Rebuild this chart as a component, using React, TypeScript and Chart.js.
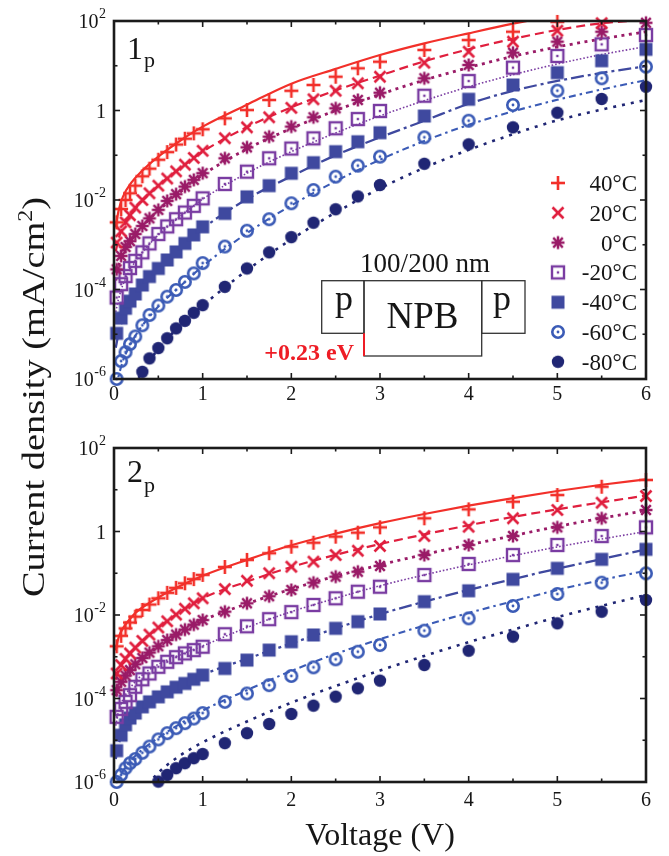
import React, { useEffect, useRef } from 'react';
import { Chart, registerables } from 'chart.js';

Chart.register(...registerables);

const SERIF = '"Liberation Serif", "Times New Roman", "DejaVu Serif", serif';

// ---------- DATA (current density given as log10 of mA/cm^2) ----------
const V_POINTS = [0.03, 0.08, 0.13, 0.18, 0.24, 0.32, 0.4, 0.5, 0.6, 0.7, 0.8, 0.9, 1.0, 1.25, 1.5, 1.75, 2, 2.25, 2.5, 2.75, 3, 3.5, 4, 4.5, 5, 5.5, 6];
const V_FIT = [0.02, 0.05, 0.1, 0.2, 0.3, 0.5, 0.75, 1, 1.5, 2, 2.5, 3, 3.5, 4, 4.5, 5, 5.5, 6];

const TEMPS = ['40°C', '20°C', '0°C', '-20°C', '-40°C', '-60°C', '-80°C'];

// Panel 1p — measured points
const TOP_P40 = [-2.5, -2.2, -2.0, -1.85, -1.68, -1.47, -1.3, -1.1, -0.93, -0.76, -0.63, -0.51, -0.42, -0.175, 0.01, 0.235, 0.44, 0.57, 0.755, 0.943, 1.09, 1.352, 1.575, 1.761, 1.98, null, null];
const TOP_P20 = [-2.95, -2.7, -2.5, -2.34, -2.17, -2.0, -1.85, -1.68, -1.52, -1.36, -1.21, -1.06, -0.9, -0.62, -0.376, -0.152, 0.06, 0.25, 0.442, 0.608, 0.755, 1.068, 1.314, 1.538, 1.783, 1.95, null];
const TOP_P0 = [-3.55, -3.25, -3.05, -2.92, -2.76, -2.58, -2.41, -2.22, -2.02, -1.87, -1.7, -1.55, -1.4, -1.068, -0.823, -0.585, -0.36, -0.152, 0.049, 0.235, 0.398, 0.72, 1.017, 1.292, 1.538, 1.76, 1.96];
const TOP_PM20 = [-4.18, -3.88, -3.7, -3.52, -3.36, -3.17, -2.97, -2.76, -2.59, -2.43, -2.28, -2.13, -1.963, -1.642, -1.367, -1.068, -0.85, -0.622, -0.398, -0.19, -0.011, 0.331, 0.659, 0.957, 1.218, 1.479, 1.687];
const TOP_PM40 = [-4.98, -4.64, -4.42, -4.26, -4.1, -3.9, -3.71, -3.53, -3.34, -3.16, -2.97, -2.78, -2.6, -2.3, -1.93, -1.68, -1.403, -1.166, -0.92, -0.697, -0.496, -0.123, 0.25, 0.57, 0.845, 1.113, 1.367];
const TOP_PM60 = [-6.0, -5.6, -5.4, -5.22, -5.05, -4.8, -4.57, -4.36, -4.16, -4.01, -3.83, -3.64, -3.41, -3.04, -2.686, -2.43, -2.074, -1.777, -1.479, -1.233, -1.032, -0.6, -0.228, 0.123, 0.442, 0.72, 0.98];
const TOP_PM80 = [null, null, null, null, null, -5.84, -5.54, -5.31, -5.09, -4.87, -4.7, -4.52, -4.35, -3.94, -3.53, -3.17, -2.83, -2.507, -2.208, -1.92, -1.665, -1.19, -0.756, -0.376, -0.05, 0.257, 0.532];

// Panel 1p — fitted curves
const TOP_F40 = [-2.6, -2.25, -1.93, -1.6, -1.38, -1.03, -0.67, -0.36, 0.13, 0.6, 0.93, 1.24, 1.5, 1.725, 1.94, 2.13, 2.3, 2.45];
const TOP_F20 = [-3.15, -2.88, -2.62, -2.3, -2.06, -1.68, -1.28, -0.92, -0.37, 0.07, 0.45, 0.78, 1.1, 1.37, 1.6, 1.8, 1.95, 2.02];
const TOP_F0 = [-3.8, -3.48, -3.2, -2.87, -2.63, -2.24, -1.82, -1.44, -0.86, -0.4, 0.0, 0.36, 0.68, 0.96, 1.21, 1.42, 1.6, 1.76];
const TOP_FM20 = [-4.5, -4.22, -3.9, -3.5, -3.22, -2.78, -2.36, -1.98, -1.4, -0.92, -0.5, -0.12, 0.22, 0.53, 0.8, 1.04, 1.25, 1.43];
const TOP_FM40 = [-5.3, -5.0, -4.65, -4.22, -3.95, -3.55, -3.08, -2.64, -1.98, -1.47, -1.0, -0.6, -0.23, 0.15, 0.44, 0.66, 0.84, 0.99];
const TOP_FM60 = [-6.2, -5.95, -5.6, -5.17, -4.86, -4.38, -3.92, -3.48, -2.74, -2.12, -1.58, -1.1, -0.68, -0.32, -0.02, 0.24, 0.47, 0.68];
const TOP_FM80 = [-7.5, -7.2, -6.9, -6.3, -5.9, -5.33, -4.8, -4.36, -3.57, -2.88, -2.28, -1.74, -1.28, -0.88, -0.53, -0.22, 0.02, 0.235];

// Panel 2p — measured points
const BOT_P40 = [-2.75, -2.5, -2.32, -2.18, -2.04, -1.88, -1.75, -1.6, -1.47, -1.35, -1.24, -1.14, -1.04, -0.85, -0.68, -0.52, -0.364, -0.268, -0.124, -0.028, 0.1, 0.316, 0.531, 0.714, 0.874, 1.073, 1.234];
const BOT_P20 = [-3.4, -3.2, -3.05, -2.92, -2.78, -2.62, -2.47, -2.3, -2.15, -1.99, -1.85, -1.72, -1.6, -1.38, -1.18, -1.0, -0.843, -0.723, -0.563, -0.46, -0.347, -0.108, 0.115, 0.316, 0.515, 0.69, 0.85];
const BOT_P0 = [-3.8, -3.6, -3.45, -3.32, -3.18, -3.03, -2.9, -2.75, -2.6, -2.47, -2.35, -2.23, -2.12, -1.92, -1.72, -1.55, -1.401, -1.226, -1.082, -0.963, -0.826, -0.563, -0.323, -0.108, 0.1, 0.316, 0.515];
const BOT_PM20 = [-4.44, -4.25, -4.08, -3.92, -3.72, -3.54, -3.4, -3.24, -3.12, -3.01, -2.92, -2.84, -2.76, -2.46, -2.27, -2.1, -1.93, -1.76, -1.6, -1.442, -1.322, -1.042, -0.778, -0.563, -0.323, -0.108, 0.1];
const BOT_PM40 = [-5.25, -4.88, -4.63, -4.47, -4.35, -4.2, -4.08, -3.96, -3.84, -3.73, -3.64, -3.54, -3.44, -3.28, -3.08, -2.84, -2.64, -2.479, -2.319, -2.16, -1.976, -1.68, -1.42, -1.146, -0.882, -0.667, -0.427];
const BOT_PM60 = [-6.0, -5.83, -5.67, -5.55, -5.45, -5.3, -5.15, -4.98, -4.83, -4.71, -4.59, -4.48, -4.35, -4.08, -3.88, -3.68, -3.46, -3.253, -3.062, -2.879, -2.719, -2.375, -2.08, -1.784, -1.497, -1.226, -1.002];
const BOT_PM80 = [null, null, null, null, null, null, null, -5.99, -5.83, -5.67, -5.55, -5.43, -5.33, -5.07, -4.83, -4.61, -4.371, -4.172, -3.956, -3.756, -3.573, -3.198, -2.855, -2.519, -2.2, -1.921, -1.641];

// Panel 2p — fitted curves
const BOT_F40 = [-2.85, -2.55, -2.32, -2.04, -1.85, -1.58, -1.3, -1.06, -0.68, -0.33, -0.05, 0.2, 0.42, 0.62, 0.8, 0.97, 1.12, 1.25];
const BOT_F20 = [-3.55, -3.32, -3.12, -2.87, -2.66, -2.3, -1.92, -1.6, -1.2, -0.85, -0.56, -0.3, -0.07, 0.15, 0.35, 0.53, 0.7, 0.86];
const BOT_F0 = [-3.95, -3.75, -3.56, -3.28, -3.07, -2.75, -2.41, -2.13, -1.73, -1.38, -1.07, -0.8, -0.55, -0.32, -0.1, 0.12, 0.32, 0.5];
const BOT_FM20 = [-4.65, -4.32, -4.03, -3.7, -3.47, -3.18, -2.95, -2.74, -2.3, -1.92, -1.6, -1.3, -1.04, -0.8, -0.58, -0.37, -0.18, 0.0];
const BOT_FM40 = [-5.45, -5.12, -4.8, -4.44, -4.23, -3.96, -3.68, -3.43, -3.05, -2.68, -2.32, -1.98, -1.68, -1.4, -1.14, -0.89, -0.66, -0.43];
const BOT_FM60 = [-6.2, -5.95, -5.74, -5.46, -5.26, -4.94, -4.6, -4.29, -3.8, -3.34, -2.93, -2.58, -2.25, -1.95, -1.67, -1.4, -1.16, -0.94];
const BOT_FM80 = [-7.6, -7.4, -7.1, -6.7, -6.3, -5.78, -5.36, -5.05, -4.55, -4.1, -3.7, -3.33, -2.98, -2.65, -2.35, -2.05, -1.78, -1.52];

// Axis ticks
const X_MAJOR = [0, 1, 2, 3, 4, 5, 6];
const X_MINOR = [0.5, 1.5, 2.5, 3.5, 4.5, 5.5];
const Y_MAJOR_EXP = [2, 0, -2, -4, -6];
const Y_MINOR_EXP = [1, -1, -3, -5];

// ---------- STYLES ----------
const COLORS = ['#f2302a', '#e01f3e', '#9a1c68', '#7a3ca2', '#3f499f', '#3b5bb6', '#202674'];
const MARKERS = ['plus', 'cross', 'star', 'sqdot', 'square', 'circdot', 'dot'];
const DASHES = [[], [9, 5], [3, 4.5], [1.6, 2], [13, 4, 3, 4], [7, 4, 2.5, 4], [3, 6]];
const WIDTHS = [2.2, 2.2, 2.8, 1.6, 2.3, 2.1, 2.6];

function makeMarker(kind: string, color: string): HTMLCanvasElement {
  const c = document.createElement('canvas');
  c.width = 18;
  c.height = 18;
  const g = c.getContext('2d') as CanvasRenderingContext2D;
  g.strokeStyle = color;
  g.fillStyle = color;
  g.lineWidth = 2.6;
  const line = (a: number, b: number, cc: number, d: number) => {
    g.beginPath();
    g.moveTo(a, b);
    g.lineTo(cc, d);
    g.stroke();
  };
  if (kind === 'plus') {
    line(2, 9, 16, 9);
    line(9, 2, 9, 16);
  } else if (kind === 'cross') {
    line(3.5, 3.5, 14.5, 14.5);
    line(14.5, 3.5, 3.5, 14.5);
  } else if (kind === 'star') {
    g.lineWidth = 2.5;
    line(2.5, 9, 15.5, 9);
    line(9, 2.5, 9, 15.5);
    line(4.2, 4.2, 13.8, 13.8);
    line(13.8, 4.2, 4.2, 13.8);
  } else if (kind === 'sqdot') {
    g.lineWidth = 2.4;
    g.strokeRect(3, 3, 12, 12);
    g.fillRect(7.8, 7.8, 2.4, 2.4);
  } else if (kind === 'square') {
    g.fillRect(2.5, 2.5, 13, 13);
  } else if (kind === 'circdot') {
    g.lineWidth = 2.6;
    g.beginPath();
    g.arc(9, 9, 5.7, 0, Math.PI * 2);
    g.stroke();
    g.beginPath();
    g.arc(9, 9, 1.4, 0, Math.PI * 2);
    g.fill();
  } else {
    g.beginPath();
    g.arc(9, 9, 6.2, 0, Math.PI * 2);
    g.fill();
  }
  return c;
}

const decorPlugin = {
  id: 'decor',
  afterDraw(chart: any, _args: any, opts: any) {
    const { ctx, chartArea: a, scales } = chart;
    const xs = scales.x;
    const ys = scales.y;
    ctx.save();
    // frame
    ctx.strokeStyle = '#1b1b1b';
    ctx.lineWidth = 2.6;
    ctx.strokeRect(a.left, a.top, a.right - a.left, a.bottom - a.top);
    // ticks
    ctx.lineWidth = 1.6;
    const seg = (x1: number, y1: number, x2: number, y2: number) => {
      ctx.beginPath();
      ctx.moveTo(x1, y1);
      ctx.lineTo(x2, y2);
      ctx.stroke();
    };
    X_MAJOR.forEach((v) => {
      const x = xs.getPixelForValue(v);
      seg(x, a.bottom, x, a.bottom - 6);
      seg(x, a.top, x, a.top + 6);
    });
    X_MINOR.forEach((v) => {
      const x = xs.getPixelForValue(v);
      seg(x, a.bottom, x, a.bottom - 3.5);
      seg(x, a.top, x, a.top + 3.5);
    });
    Y_MAJOR_EXP.forEach((e) => {
      const y = ys.getPixelForValue(Math.pow(10, e));
      seg(a.left, y, a.left + 6, y);
      seg(a.right, y, a.right - 6, y);
    });
    Y_MINOR_EXP.forEach((e) => {
      const y = ys.getPixelForValue(Math.pow(10, e));
      seg(a.left, y, a.left + 3.5, y);
      seg(a.right, y, a.right - 3.5, y);
    });
    // x tick labels
    ctx.fillStyle = '#161616';
    ctx.font = `20px ${SERIF}`;
    ctx.textAlign = 'center';
    ctx.textBaseline = 'alphabetic';
    X_MAJOR.forEach((v) => {
      ctx.fillText(String(v), xs.getPixelForValue(v), a.bottom + opts.xLabelDy);
    });
    // y tick labels
    const rightEdge = a.left - 8;
    Y_MAJOR_EXP.forEach((e) => {
      const y = ys.getPixelForValue(Math.pow(10, e));
      if (e === 0) {
        ctx.font = `20px ${SERIF}`;
        ctx.textAlign = 'right';
        ctx.fillText('1', rightEdge, y + 7);
      } else {
        const sup = String(e);
        ctx.font = `14px ${SERIF}`;
        ctx.textAlign = 'right';
        const ws = ctx.measureText(sup).width;
        ctx.fillText(sup, rightEdge, y - 3);
        ctx.font = `20px ${SERIF}`;
        ctx.fillText('10', rightEdge - ws - 0.5, y + 7);
      }
    });
    // panel label
    ctx.textAlign = 'left';
    ctx.font = `32px ${SERIF}`;
    ctx.fillText(opts.main, opts.labelX, opts.labelY);
    const mw = ctx.measureText(opts.main).width;
    ctx.font = `22px ${SERIF}`;
    ctx.fillText(opts.sub, opts.labelX + mw + 1, opts.labelY + opts.subDy);

    // x axis title
    if (opts.xTitle) {
      ctx.font = `32px ${SERIF}`;
      ctx.textAlign = 'center';
      ctx.fillText('Voltage (V)', (a.left + a.right) / 2, opts.xTitleY);
    }

    // legend
    if (opts.legend) {
      const imgs = opts.markerImgs as HTMLCanvasElement[];
      ctx.font = `23px ${SERIF}`;
      ctx.textAlign = 'right';
      TEMPS.forEach((t, i) => {
        const y = 183 + i * 29.8;
        ctx.drawImage(imgs[i], 558 - 9, y - 9);
        ctx.fillStyle = '#161616';
        ctx.fillText(t, 637, y + 8);
      });
    }

    // inset device sketch
    if (opts.inset) {
      ctx.strokeStyle = '#333';
      ctx.lineWidth = 1.3;
      ctx.fillStyle = '#ffffff';
      ctx.fillRect(321.7, 280.7, 42.3, 52.6);
      ctx.fillRect(364, 280.7, 117.7, 75.3);
      ctx.fillRect(481.7, 280.7, 43.3, 52.6);
      ctx.strokeRect(321.7, 280.7, 42.3, 52.6);
      ctx.strokeRect(364, 280.7, 117.7, 75.3);
      ctx.strokeRect(481.7, 280.7, 43.3, 52.6);
      ctx.strokeStyle = '#ee1c25';
      ctx.lineWidth = 2;
      seg(364, 333.3, 364, 356);
      ctx.fillStyle = '#161616';
      ctx.textAlign = 'center';
      ctx.font = `27px ${SERIF}`;
      ctx.fillText('100/200 nm', 425, 272);
      ctx.font = `36px ${SERIF}`;
      ctx.fillText('p', 344, 310);
      ctx.fillText('p', 502, 310);
      ctx.font = `37px ${SERIF}`;
      ctx.fillText('NPB', 422.5, 328);
      ctx.fillStyle = '#ee1c25';
      ctx.font = `bold 24px ${SERIF}`;
      ctx.textAlign = 'right';
      ctx.fillText('+0.23 eV', 354, 360);
    }
    ctx.restore();
  },
};

function buildConfig(panel: any, imgs: HTMLCanvasElement[]) {
  const datasets: any[] = [];
  panel.fits.forEach((fit: number[], i: number) => {
    datasets.push({
      label: TEMPS[i] + ' fit',
      data: V_FIT.map((v, k) => ({ x: v, y: Math.pow(10, fit[k]) })),
      borderColor: COLORS[i],
      borderWidth: WIDTHS[i],
      borderDash: DASHES[i],
      pointRadius: 0,
      fill: false,
      cubicInterpolationMode: 'monotone',
      order: 2,
    });
  });
  panel.marks.forEach((marks: (number | null)[], i: number) => {
    const pts: any[] = [];
    V_POINTS.forEach((v, k) => {
      const m = marks[k];
      if (m !== null && m !== undefined) pts.push({ x: v, y: Math.pow(10, m) });
    });
    datasets.push({
      label: TEMPS[i],
      data: pts,
      showLine: false,
      pointStyle: imgs[i],
      pointRadius: 6,
      borderColor: COLORS[i],
      backgroundColor: COLORS[i],
      clip: 10,
      order: 1,
    });
  });
  return {
    type: 'line',
    data: { datasets },
    options: {
      animation: false,
      responsive: false,
      devicePixelRatio: 1,
      events: [],
      layout: { padding: panel.padding },
      scales: {
        x: {
          type: 'linear',
          min: 0,
          max: 6,
          grid: { display: false },
          border: { display: false },
          ticks: { display: false },
          afterFit: (s: any) => {
            s.height = 0;
          },
        },
        y: {
          type: 'logarithmic',
          min: 1e-6,
          max: 1e2,
          grid: { display: false },
          border: { display: false },
          ticks: { display: false },
          afterFit: (s: any) => {
            s.width = 0;
          },
        },
      },
      plugins: {
        legend: { display: false },
        tooltip: { enabled: false },
        decor: { ...panel.decor, markerImgs: imgs },
      },
    },
    plugins: [decorPlugin],
  };
}

const PANEL_TOP = {
  marks: [TOP_P40, TOP_P20, TOP_P0, TOP_PM20, TOP_PM40, TOP_PM60, TOP_PM80],
  fits: [TOP_F40, TOP_F20, TOP_F0, TOP_FM20, TOP_FM40, TOP_FM60, TOP_FM80],
  padding: { left: 114, right: 23, top: 21, bottom: 41 },
  decor: { main: '1', sub: 'p', labelX: 127, labelY: 59, subDy: 8, xLabelDy: 21, legend: true, inset: true, xTitle: false },
};

const PANEL_BOTTOM = {
  marks: [BOT_P40, BOT_P20, BOT_P0, BOT_PM20, BOT_PM40, BOT_PM60, BOT_PM80],
  fits: [BOT_F40, BOT_F20, BOT_F0, BOT_FM20, BOT_FM40, BOT_FM60, BOT_FM80],
  padding: { left: 114, right: 23, top: 28, bottom: 74 },
  decor: { main: '2', sub: 'p', labelX: 127, labelY: 62, subDy: 10, xLabelDy: 24, legend: false, inset: false, xTitle: true, xTitleY: 425 },
};

function PanelChart({ top, height, panel }: { top: number; height: number; panel: any }) {
  const ref = useRef<HTMLCanvasElement | null>(null);
  useEffect(() => {
    const imgs = MARKERS.map((k, i) => makeMarker(k, COLORS[i]));
    const chart = new Chart(ref.current as HTMLCanvasElement, buildConfig(panel, imgs) as any);
    return () => chart.destroy();
  }, [panel]);
  return (
    <canvas
      ref={ref}
      width={669}
      height={height}
      style={{ position: 'absolute', left: 0, top, width: 669, height, display: 'block' }}
    />
  );
}

export default function App() {
  return (
    <div style={{ position: 'absolute', left: 0, top: 0, width: 669, height: 856, background: '#fff', overflow: 'hidden' }}>
      <PanelChart top={0} height={420} panel={PANEL_TOP} />
      <PanelChart top={420} height={436} panel={PANEL_BOTTOM} />
      <div
        style={{
          position: 'absolute',
          left: 33 - 250,
          top: 397 - 20,
          width: 500,
          height: 40,
          lineHeight: '40px',
          textAlign: 'center',
          fontFamily: SERIF,
          fontSize: 32,
          color: '#161616',
          transform: 'rotate(-90deg) scaleX(1.2)',
          whiteSpace: 'nowrap',
        }}
      >
        Current density (mA/cm<sup style={{ fontSize: 20, lineHeight: 0 }}>2</sup>)
      </div>
    </div>
  );
}
